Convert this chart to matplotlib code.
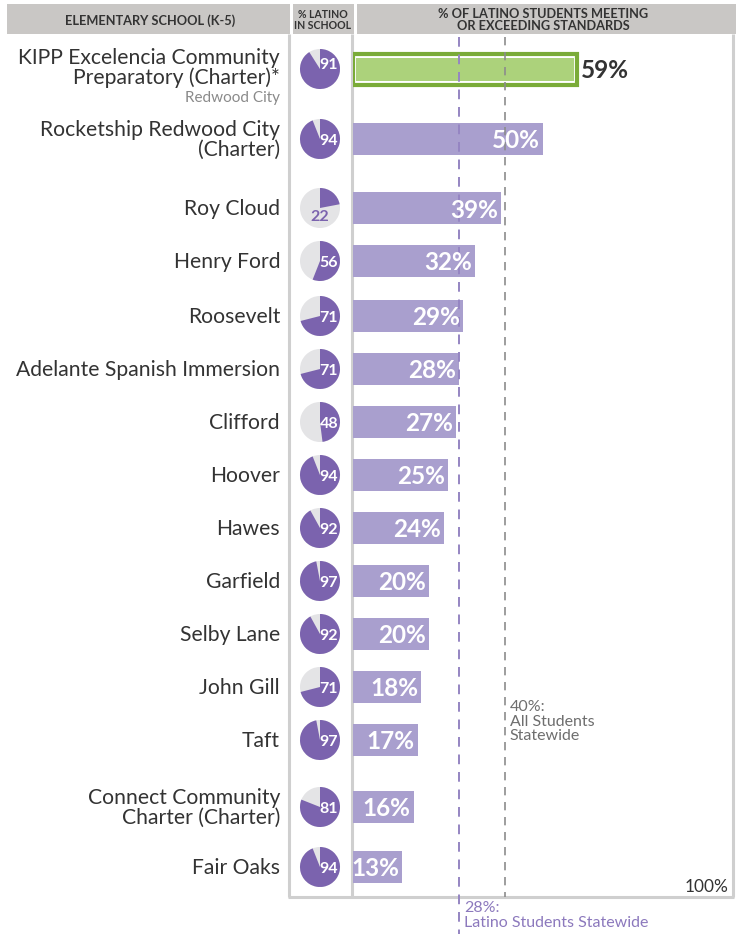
import matplotlib
matplotlib.use("Agg")
import matplotlib.pyplot as plt
from matplotlib.patches import Rectangle, Wedge

plt.rcParams["font.family"] = ["Lato", "DejaVu Sans"]

# ── Data ──────────────────────────────────────────────────
schools = [
    "KIPP Excelencia Community\nPreparatory (Charter)*",
    "Rocketship Redwood City\n(Charter)",
    "Roy Cloud",
    "Henry Ford",
    "Roosevelt",
    "Adelante Spanish Immersion",
    "Clifford",
    "Hoover",
    "Hawes",
    "Garfield",
    "Selby Lane",
    "John Gill",
    "Taft",
    "Connect Community\nCharter (Charter)",
    "Fair Oaks",
]
pct_latino = [91, 94, 22, 56, 71, 71, 48, 94, 92, 97, 92, 71, 97, 81, 94]
pct_meeting = [59, 50, 39, 32, 29, 28, 27, 25, 24, 20, 20, 18, 17, 16, 13]
latino_statewide = 28
all_statewide = 40

# ── Layout (pixels) ───────────────────────────────────────
W, H = 743, 937
row_y = [70, 140, 209, 262, 317, 370, 423, 476, 529, 582, 635, 688, 741, 808, 868]
BAR_L, BAR_R = 353, 733
BOTTOM = 898
BAR_H = 32

PURPLE = "#7b63ae"
BAR_PURPLE = "#a99fce"
PIE_GRAY = "#e4e4e6"
HEAD_GRAY = "#c9c7c5"
LINE_GRAY = "#cfcfcf"
GREEN = "#acd27b"
DARK_GREEN = "#7aab38"
TEXT = "#333333"

fig = plt.figure(figsize=(W / 100, H / 100), dpi=100)
bg = fig.add_axes([0, 0, 1, 1])
bg.set_xlim(0, W)
bg.set_ylim(H, 0)
bg.axis("off")

# header cells
for x0, x1 in [(7, 290), (293, 354), (357, 736)]:
    bg.add_patch(Rectangle((x0, 5), x1 - x0, 30, color=HEAD_GRAY, lw=0))
bg.text(150, 21, "ELEMENTARY SCHOOL (K-5)", ha="center", va="center",
        fontsize=9.2, fontweight="bold", color=TEXT)
bg.text(323, 20, "% LATINO\nIN SCHOOL", ha="center", va="center",
        fontsize=7.6, fontweight="bold", color=TEXT, linespacing=0.95)
bg.text(543, 20, "% OF LATINO STUDENTS MEETING\nOR EXCEEDING STANDARDS", ha="center",
        va="center", fontsize=9.2, fontweight="bold", color=TEXT, linespacing=0.92)

# frame lines
for x in (289, 352):
    bg.plot([x, x], [35, BOTTOM], color=LINE_GRAY, lw=2.2, solid_capstyle="butt")
bg.plot([BAR_R, BAR_R], [35, BOTTOM], color=LINE_GRAY, lw=2.2, solid_capstyle="butt")
bg.plot([288, BAR_R + 1], [BOTTOM, BOTTOM], color=LINE_GRAY, lw=2.2, solid_capstyle="butt")

# school names
for i, (name, y) in enumerate(zip(schools, row_y)):
    yy = y - 2 if i == 0 else y
    bg.text(280, yy, name, ha="right", va="center", fontsize=15.2, color=TEXT,
            linespacing=0.95)
bg.text(280, 98, "Redwood City", ha="right", va="center", fontsize=11, color="#8a8a8a")

# pies
R = 20
for i, (p, y) in enumerate(zip(pct_latino, row_y)):
    cx = 320
    bg.add_patch(Wedge((cx, y), R, 0, 360, color=PIE_GRAY, lw=0))
    bg.add_patch(Wedge((cx, y), R, -90, -90 + 360 * p / 100, color=PURPLE, lw=0))
    if p < 40:
        bg.text(cx, y + 8, str(p), ha="center", va="center", fontsize=11.5,
                fontweight="bold", color=PURPLE)
    else:
        ly = y - 5 if i == 0 else y + 1
        bg.text(cx + 9, ly, str(p), ha="center", va="center", fontsize=11.5,
                fontweight="bold", color="white")

# bars
ax = fig.add_axes([BAR_L / W, 0, (BAR_R - BAR_L) / W, 1])
ax.set_xlim(0, 100)
ax.set_ylim(H, 0)
ax.axis("off")

ax.plot([latino_statewide] * 2, [38, 935], color="#9585c2", lw=1.4, ls=(0, (5, 4)))
ax.plot([all_statewide] * 2, [38, BOTTOM], color="#8c8c8c", lw=1.2, ls=(0, (5, 4)))

for i, (v, y) in enumerate(zip(pct_meeting, row_y)):
    if i == 0:
        ax.barh(y, v, height=BAR_H - 1, left=0, color="white", edgecolor=DARK_GREEN, lw=3)
        ax.barh(y, v - 1.6, height=BAR_H - 9, left=0.8, color=GREEN, lw=0)
        ax.text(v + 1, y + 1, f"{v}%", ha="left", va="center", fontsize=17.5,
                fontweight="bold", color=TEXT)
    else:
        ax.barh(y, v, height=BAR_H, left=0, color=BAR_PURPLE, lw=0)
        ax.text(v - 0.8, y + 1, f"{v}%", ha="right", va="center", fontsize=17.5,
                fontweight="bold", color="white")

ax.text(all_statewide + 1.2, 700, f"{all_statewide}%:\nAll Students\nStatewide",
        ha="left", va="top", fontsize=11.5, color="#6e6e6e", linespacing=1.05)
ax.text(latino_statewide + 1.2, 901, f"{latino_statewide}%:\nLatino Students Statewide",
        ha="left", va="top", fontsize=11.5, color="#8c79bd", linespacing=1.05)
ax.text(98.7, 887, "100%", ha="right", va="center", fontsize=12.4, color=TEXT)

fig.savefig("out.png", dpi=100)
